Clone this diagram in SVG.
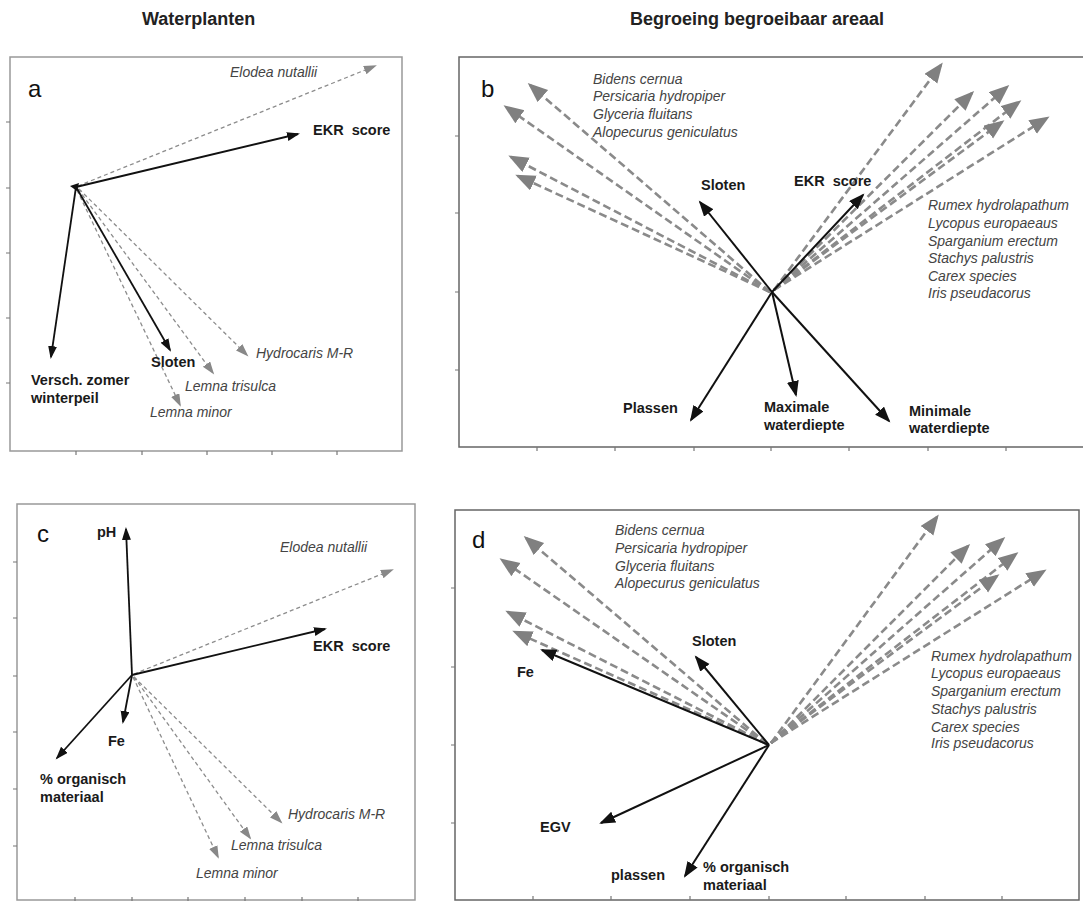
<svg xmlns="http://www.w3.org/2000/svg" width="1083" height="902" viewBox="0 0 1083 902">
<style>
text{font-family:"Liberation Sans",Arial,sans-serif}
.title{font-size:18px;font-weight:bold;fill:#222}
.pl{font-size:24px;fill:#111}
.b{font-size:14.5px;font-weight:bold;fill:#1a1a1a}
.i{font-size:14px;font-style:italic;fill:#444}
.frame{fill:none;stroke:#999;stroke-width:1.5}
.frame2{fill:none;stroke:#666;stroke-width:1.5}
.tick{stroke:#777;stroke-width:1.2}
.blk{stroke:#111;stroke-width:1.8;fill:none;marker-end:url(#hb)}
.blk2{stroke:#111;stroke-width:2;fill:none;marker-end:url(#hb2)}
.gs{stroke:#8c8c8c;stroke-width:1.3;stroke-dasharray:4 3;fill:none;marker-end:url(#hs)}
.gb{stroke:#8a8a8a;stroke-width:2.6;stroke-dasharray:8 4;fill:none;marker-end:url(#hg)}
</style>
<defs>
<marker id="hb" markerUnits="userSpaceOnUse" markerWidth="14" markerHeight="10" refX="11" refY="4.5" orient="auto"><path d="M0,0 L13,4.5 L0,9 z" fill="#111"/></marker>
<marker id="hb2" markerUnits="userSpaceOnUse" markerWidth="18" markerHeight="13" refX="14" refY="6" orient="auto"><path d="M0,0 L16,6 L0,12 z" fill="#111"/></marker>
<marker id="hs" markerUnits="userSpaceOnUse" markerWidth="14" markerHeight="10" refX="11" refY="4.5" orient="auto"><path d="M0,0 L13,4.5 L0,9 z" fill="#888"/></marker>
<marker id="hg" markerUnits="userSpaceOnUse" markerWidth="21" markerHeight="17" refX="17" refY="8" orient="auto"><path d="M0,0 L20,8 L0,16 z" fill="#808080"/></marker>
</defs>
<rect width="1083" height="902" fill="#fff"/>

<g id="titles">
<text class="title" x="142" y="25">Waterplanten</text>
<text class="title" x="630" y="25">Begroeing begroeibaar areaal</text>
</g>

<!-- Panel a -->
<g id="panel-a">
<rect class="frame" x="10" y="57" width="392" height="394"/>
<path class="tick" d="M6,122H10M6,188H10M6,253H10M6,318H10M6,383H10M76,451V455M142,451V455M207,451V455M272,451V455M337,451V455"/>
<text class="pl" x="28" y="97">a</text>
</g>
<g id="connectors-a">
<line class="gs" x1="78" y1="186" x2="375" y2="66"/>
<line class="gs" x1="78" y1="189" x2="213" y2="373"/>
<line class="gs" x1="77" y1="190" x2="180" y2="405"/>
<line class="gs" x1="79" y1="189" x2="247" y2="355"/>
<line class="blk" x1="76" y1="187" x2="298" y2="134"/>
<line class="blk" x1="76" y1="187" x2="51" y2="357"/>
<line class="blk" x1="76" y1="187" x2="170" y2="350"/>
<polygon points="70,186 79,183 77,191" fill="#111"/>
</g>
<g id="a-elodea"><text class="i" x="230" y="77">Elodea nutallii</text></g>
<g id="a-ekr"><text class="b" x="313" y="135" word-spacing="4">EKR score</text></g>
<g id="a-versch"><text class="b" x="31" y="385">Versch. zomer</text><text class="b" x="31" y="403">winterpeil</text></g>
<g id="a-sloten"><text class="b" x="151" y="367">Sloten</text></g>
<g id="a-hydrocaris"><text class="i" x="256" y="358">Hydrocaris M-R</text></g>
<g id="a-trisulca"><text class="i" x="185" y="391">Lemna trisulca</text></g>
<g id="a-minor"><text class="i" x="150" y="417">Lemna minor</text></g>

<!-- Panel b -->
<g id="panel-b">
<path class="frame2" d="M1083,57H459V447H1083"/>
<path class="tick" d="M455,136H459M455,213H459M455,292H459M455,370H459M537,447V451M615,447V451M694,447V451M771,447V451M849,447V451M928,447V451M1006,447V451"/>
<text class="pl" x="481" y="97">b</text>
</g>
<g id="connectors-b">
<line class="gb" x1="770" y1="292" x2="530" y2="85"/>
<line class="gb" x1="770" y1="292" x2="506" y2="107"/>
<line class="gb" x1="770" y1="292" x2="511" y2="157"/>
<line class="gb" x1="770" y1="292" x2="518" y2="176"/>
<line class="gb" x1="774" y1="290" x2="941" y2="65"/>
<line class="gb" x1="774" y1="290" x2="972" y2="93"/>
<line class="gb" x1="774" y1="290" x2="1007" y2="87"/>
<line class="gb" x1="774" y1="290" x2="1019" y2="102"/>
<line class="gb" x1="774" y1="290" x2="1002" y2="122"/>
<line class="gb" x1="774" y1="290" x2="1047" y2="118"/>
<line class="blk2" x1="772" y1="292" x2="700" y2="202"/>
<line class="blk2" x1="772" y1="292" x2="863" y2="195"/>
<line class="blk2" x1="772" y1="292" x2="691" y2="420"/>
<line class="blk2" x1="772" y1="292" x2="796" y2="395"/>
<line class="blk2" x1="772" y1="292" x2="889" y2="421"/>
</g>
<g id="b-species-left">
<text class="i" x="593" y="84">Bidens cernua</text>
<text class="i" x="593" y="101">Persicaria hydropiper</text>
<text class="i" x="593" y="119">Glyceria fluitans</text>
<text class="i" x="593" y="137">Alopecurus geniculatus</text>
</g>
<g id="b-species-right">
<text class="i" x="928" y="210">Rumex hydrolapathum</text>
<text class="i" x="928" y="228">Lycopus europaeaus</text>
<text class="i" x="928" y="246">Sparganium erectum</text>
<text class="i" x="928" y="263">Stachys palustris</text>
<text class="i" x="928" y="281">Carex species</text>
<text class="i" x="928" y="298">Iris pseudacorus</text>
</g>
<g id="b-sloten"><text class="b" x="701" y="190">Sloten</text></g>
<g id="b-ekr"><text class="b" x="794" y="186" word-spacing="4">EKR score</text></g>
<g id="b-plassen"><text class="b" x="623" y="413">Plassen</text></g>
<g id="b-maximale"><text class="b" x="764" y="412">Maximale</text><text class="b" x="764" y="430">waterdiepte</text></g>
<g id="b-minimale"><text class="b" x="909" y="416">Minimale</text><text class="b" x="909" y="433">waterdiepte</text></g>

<!-- Panel c -->
<g id="panel-c">
<rect class="frame" x="17" y="504" width="398" height="396"/>
<path class="tick" d="M13,562H17M13,618H17M13,676H17M13,732H17M13,789H17M13,846H17M75,897V901M132,897V901M188,897V901M245,897V901M302,897V901M358,897V901"/>
<text class="pl" x="37" y="542">c</text>
</g>
<g id="connectors-c">
<line class="gs" x1="134" y1="674" x2="392" y2="570"/>
<line class="gs" x1="134" y1="677" x2="281" y2="822"/>
<line class="gs" x1="134" y1="677" x2="250" y2="838"/>
<line class="gs" x1="133" y1="677" x2="218" y2="857"/>
<line class="blk" x1="132" y1="675" x2="126" y2="529"/>
<line class="blk" x1="132" y1="675" x2="325" y2="629"/>
<line class="blk" x1="132" y1="675" x2="123" y2="722"/>
<line class="blk" x1="132" y1="675" x2="57" y2="758"/>
</g>
<g id="c-ph"><text class="b" x="97" y="537">pH</text></g>
<g id="c-elodea"><text class="i" x="280" y="552">Elodea nutallii</text></g>
<g id="c-ekr"><text class="b" x="313" y="651" word-spacing="4">EKR score</text></g>
<g id="c-fe"><text class="b" x="108" y="746">Fe</text></g>
<g id="c-organisch"><text class="b" x="40" y="784">% organisch</text><text class="b" x="40" y="802">materiaal</text></g>
<g id="c-hydrocaris"><text class="i" x="288" y="819">Hydrocaris M-R</text></g>
<g id="c-trisulca"><text class="i" x="231" y="850">Lemna trisulca</text></g>
<g id="c-minor"><text class="i" x="196" y="878">Lemna minor</text></g>

<!-- Panel d -->
<g id="panel-d">
<rect class="frame2" x="455" y="510" width="624" height="390"/>
<path class="tick" d="M451,588H455M451,667H455M451,745H455M451,823H455M533,896V900M611,896V900M690,896V900M769,896V900M846,896V900M925,896V900M1002,896V900"/>
<text class="pl" x="472" y="548">d</text>
</g>
<g id="connectors-d">
<line class="gb" x1="767" y1="744" x2="526" y2="538"/>
<line class="gb" x1="767" y1="744" x2="502" y2="560"/>
<line class="gb" x1="767" y1="744" x2="508" y2="612"/>
<line class="gb" x1="767" y1="744" x2="515" y2="632"/>
<line class="gb" x1="771" y1="743" x2="937" y2="517"/>
<line class="gb" x1="771" y1="743" x2="968" y2="546"/>
<line class="gb" x1="771" y1="743" x2="1003" y2="539"/>
<line class="gb" x1="771" y1="743" x2="1016" y2="554"/>
<line class="gb" x1="771" y1="743" x2="997" y2="576"/>
<line class="gb" x1="771" y1="743" x2="1044" y2="571"/>
<line class="blk2" x1="769" y1="745" x2="542" y2="650"/>
<line class="blk2" x1="769" y1="745" x2="696" y2="657"/>
<line class="blk2" x1="769" y1="745" x2="601" y2="823"/>
<line class="blk2" x1="769" y1="745" x2="685" y2="876"/>
</g>
<g id="d-species-left">
<text class="i" x="615" y="535">Bidens cernua</text>
<text class="i" x="615" y="553">Persicaria hydropiper</text>
<text class="i" x="615" y="571">Glyceria fluitans</text>
<text class="i" x="615" y="588">Alopecurus geniculatus</text>
</g>
<g id="d-species-right">
<text class="i" x="931" y="661">Rumex hydrolapathum</text>
<text class="i" x="931" y="678">Lycopus europaeaus</text>
<text class="i" x="931" y="696">Sparganium erectum</text>
<text class="i" x="931" y="714">Stachys palustris</text>
<text class="i" x="931" y="732">Carex species</text>
<text class="i" x="931" y="748">Iris pseudacorus</text>
</g>
<g id="d-fe"><text class="b" x="517" y="677">Fe</text></g>
<g id="d-sloten"><text class="b" x="692" y="646">Sloten</text></g>
<g id="d-egv"><text class="b" x="540" y="832">EGV</text></g>
<g id="d-plassen"><text class="b" x="611" y="880">plassen</text></g>
<g id="d-organisch"><text class="b" x="703" y="872">% organisch</text><text class="b" x="703" y="890">materiaal</text></g>
</svg>
